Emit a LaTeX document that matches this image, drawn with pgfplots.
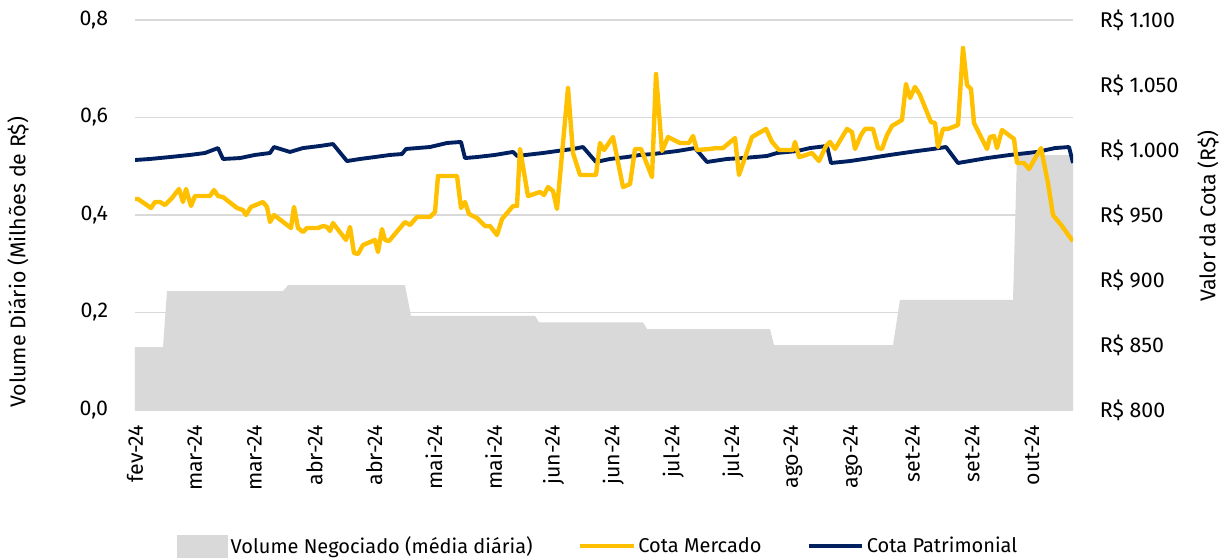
\documentclass[border=0pt]{standalone}
\usepackage{fontspec}
\setmainfont{Fira Sans}
\usepackage{pgfplots}
\pgfplotsset{compat=1.18}
\definecolor{gold}{RGB}{255,192,0}
\definecolor{navy}{RGB}{0,32,96}
\definecolor{lgray}{RGB}{217,217,217}

\begin{document}
\begin{tikzpicture}[font=\fontsize{16}{19}\selectfont]
\useasboundingbox (-101.25pt,-111pt) rectangle (819.75pt,307.5pt);
\begin{axis}[
  scale only axis, width=703.5pt, height=292.5pt,
  xmin=0, xmax=938, ymin=0, ymax=0.8,
  enlargelimits=false,
  axis x line*=bottom, axis y line*=left, axis line style={draw=none},
  major tick length=0pt,
  ytick={0,0.2,0.4,0.6,0.8},
  ymajorgrids, grid style={lgray, line width=1.2pt},
  yticklabel style={inner sep=0pt, /pgf/number format/.cd, fixed, fixed zerofill, precision=1, use comma, assume math mode=true},
  yticklabel shift=20pt,
  xtick={0,59.8,119.6,179.4,239.2,299,358.8,418.6,478.4,538.2,598,657.8,717.6,777.4,837.2,897},
  xticklabels={fev-24,mar-24,mar-24,abr-24,abr-24,mai-24,mai-24,jun-24,jun-24,jul-24,jul-24,ago-24,ago-24,set-24,set-24,out-24},
  xticklabel style={rotate=90, anchor=east, inner sep=0pt},
  xticklabel shift=11pt,
  ylabel={Volume Diário (Milhões de R\$)},
  ylabel style={at={(axis description cs:-0.1247,0.379)}, anchor=center},
]
\addplot[fill=lgray, draw=none] coordinates {
(0,0.129) (28,0.129) (32,0.244) (148,0.244) (153,0.256) (270,0.256) (276,0.193)
(400,0.193) (404,0.180) (508,0.180) (512,0.166) (635,0.166) (639,0.133)
(758,0.133) (765,0.226) (878,0.226) (882,0.523) (938,0.523)
} \closedcycle;
\end{axis}
\begin{axis}[
  scale only axis, width=703.5pt, height=292.5pt,
  xmin=0, xmax=938, ymin=800, ymax=1100,
  enlargelimits=false,
  axis x line=none, axis y line*=right, axis line style={draw=none},
  major tick length=0pt,
  xtick=\empty,
  ytick={800,850,900,950,1000,1050,1100},
  yticklabels={R\$ 800, R\$ 850, R\$ 900, R\$ 950, R\$ 1.000, R\$ 1.050, R\$ 1.100},
  yticklabel style={anchor=west, inner sep=0pt},
  yticklabel shift=20pt,
  ylabel={Valor da Cota (R\$)},
  ylabel style={at={(axis description cs:1.144,0.497)}, anchor=center},
  legend style={at={(axis description cs:0.494,-0.349)}, anchor=center, draw=none, fill=none,
    legend columns=3, /tikz/every even column/.append style={column sep=32pt},
    nodes={inner sep=2pt}, font=\fontsize{15}{18}\selectfont},
  legend cell align=left,
]
\addlegendimage{legend image code/.code={\fill[lgray] (0pt,-8pt) rectangle (38pt,8pt);}}
\addlegendentry{Volume Negociado (média diária)}
\addlegendimage{legend image code/.code={\draw[gold, line width=3.3pt] (0pt,0pt) -- (40pt,0pt);}}
\addlegendentry{Cota Mercado}
\addlegendimage{legend image code/.code={\draw[navy, line width=2.9pt] (0pt,0pt) -- (40pt,0pt);}}
\addlegendentry{Cota Patrimonial}
% Cota Patrimonial
\addplot[navy, line width=2.9pt, line join=round, forget plot] coordinates {
(0,992.3) (15,993.1) (35,994.6) (55,996.2) (70,997.7) (83,1001.5) (88,993.1)
(105,993.8) (120,996.2) (135,997.7) (139,1002.3) (155,998.5) (168,1001.5)
(185,1003.1) (198,1004.6) (212,991.5) (225,993.1) (240,994.6) (255,996.2)
(267,996.9) (271,1000.8) (295,1002.3) (312,1005.4) (326,1006.2) (330,993.8)
(342,994.6) (360,996.2) (378,998.5) (382,995.4) (408,997.7) (422,999.2)
(438,1000.8) (448,1002.3) (461,990.8) (475,993.1) (492,994.6) (505,996.2)
(518,996.9) (542,999.2) (560,1001.5) (572,990.8) (592,993.1) (608,993.8)
(632,995.4) (642,997.7) (662,999.2) (675,1001.5) (692,1003.1) (696,990.0)
(715,991.5) (735,993.8) (755,996.2) (782,999.2) (798,1000.8) (811,1002.3)
(823,990.0) (852,993.8) (875,996.2) (902,998.5) (920,1001.5) (934,1002.3)
(938,990.0)
};
% Cota Mercado
\addplot[gold, line width=3.3pt, line join=round, forget plot] coordinates {
(0,962.3) (3,962.3) (16,955.4) (20,960.0) (25,960.0) (30,957.7) (37,963.1)
(44,970.0) (48,960.0) (51,970.0) (56,956.9) (60,964.6) (75,964.6) (79,969.2)
(83,964.6) (88,963.8) (102,955.4) (108,953.8) (111,950.0) (116,956.2)
(128,960.0) (132,956.2) (135,944.6) (139,950.0) (156,940.0) (159,956.2)
(163,940.0) (168,936.9) (172,940.0) (183,940.0) (188,941.5) (192,940.8)
(195,937.7) (198,943.8) (211,930.8) (215,940.8) (219,920.8) (223,920.0)
(228,926.9) (240,930.8) (243,921.5) (247,939.2) (250,930.8) (254,930.0)
(270,944.6) (275,942.3) (282,948.5) (295,948.5) (300,952.3) (303,980.0)
(322,980.0) (326,955.4) (330,960.0) (334,950.8) (342,947.7) (350,941.5)
(355,941.5) (362,934.6) (367,946.9) (378,956.9) (382,956.9) (385,1000.8)
(393,964.6) (405,967.7) (409,965.4) (413,971.5) (418,968.5) (422,954.6)
(433,1047.7) (438,997.7) (445,980.8) (461,980.8) (465,1005.4) (469,1000.0)
(478,1010.0) (488,971.5) (495,973.8) (500,1000.8) (506,1000.8) (517,979.2)
(521,1058.5) (527,999.2) (533,1010.0) (545,1005.4) (554,1005.4) (558,1010.8)
(562,1000.0) (575,1000.8) (581,1001.5) (588,1001.5) (600,1009.2) (604,980.8)
(617,1010.0) (631,1016.2) (637,1006.2) (644,1000.0) (658,1000.0) (660,1006.2)
(664,994.6) (668,995.4) (677,997.7) (684,991.5) (691,1003.1) (695,1006.2)
(700,1000.8) (712,1016.2) (717,1013.8) (720,1000.8) (726,1011.5) (730,1016.2)
(738,1016.2) (743,1001.5) (747,1000.8) (752,1011.5) (757,1018.5) (767,1023.1)
(771,1050.8) (775,1040.0) (780,1048.5) (785,1042.3) (796,1021.5) (800,1020.8)
(803,1002.3) (808,1016.2) (813,1016.2) (823,1019.2) (828,1078.5) (832,1050.0)
(836,1046.9) (839,1020.8) (852,1000.8) (855,1010.0) (859,1010.8) (862,1001.5)
(867,1015.4) (879,1008.5) (882,990.0) (889,990.0) (894,985.4) (906,1001.5)
(913,974.6) (918,950.0) (927,941.5) (934,933.8) (938,930.0)
};
\end{axis}
\end{tikzpicture}
\end{document}
